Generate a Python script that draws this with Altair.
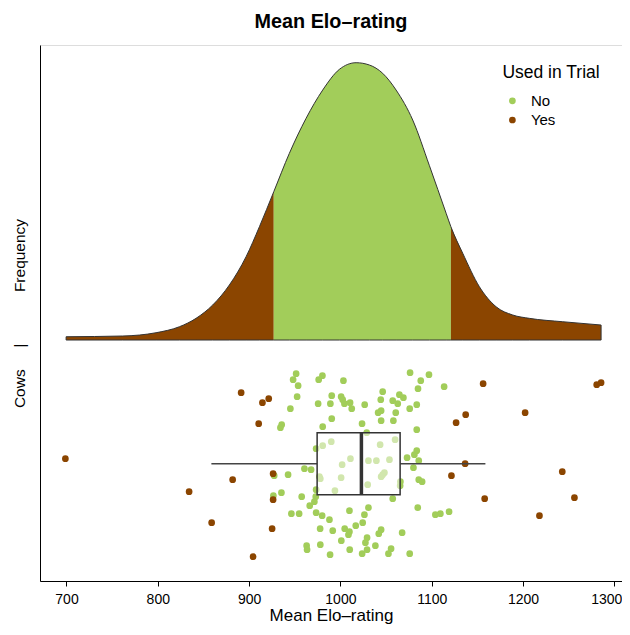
import altair as alt
import pandas as pd

GREEN = "#A2CD5A"
BROWN = "#8B4500"
FONT = "Liberation Sans"

# ---- density curve (Frequency), x in Elo, density x 1e-3
curve_elo = [699.6, 761.6, 798.1, 823.7, 841.9, 860.1, 878.4, 896.7, 911.3, 927.0,
             944.1, 962.4, 980.6, 998.9, 1017.2, 1031.8, 1046.3, 1061.0, 1079.2,
             1097.5, 1115.8, 1121.0, 1134.0, 1152.2, 1170.5, 1188.7, 1207.0, 1243.5, 1285.5]
curve_dens = [0.058, 0.071, 0.129, 0.235, 0.383, 0.618, 0.972, 1.472, 2.002, 2.620,
              3.299, 3.917, 4.417, 4.783, 4.900, 4.859, 4.713, 4.417, 3.887,
              3.080, 2.239, 2.002, 1.532, 0.942, 0.588, 0.442, 0.383, 0.323, 0.265]
low_cut = 927.0
high_cut = 1121.0

# ---- cows (jittered strip)
no_elo = [951.5, 948.2, 953.7, 952.6, 945.2, 935.7, 934.3, 980.3, 976.2, 990.5,
          975.6, 989.0, 990.5, 980.6, 973.4, 980.6, 990.0, 960.6, 967.9, 942.7,
          927.5, 977.0, 978.0, 935.4, 926.6, 957.6, 973.0, 971.5, 966.4, 973.4,
          994.0, 946.3, 954.8, 973.4, 980.0, 988.0, 977.8, 991.6, 963.0, 963.5,
          978.0, 988.7, 1003.3, 1000.8, 1002.5, 1004.4, 1010.6, 1012.4, 1026.6, 1046.3,
          1044.2, 1057.3, 1062.8, 1064.6, 1069.0, 1076.3, 1097.0, 1088.0, 1085.0, 1113.6,
          1083.6, 1075.9, 1041.3, 1044.6, 1060.6, 1044.6, 1058.0, 1023.7, 1028.8, 1083.6,
          1043.5, 1059.9, 1011.0, 1001.9, 1030.7, 1039.4, 1053.7, 1000.8, 1044.6, 1048.2,
          1046.3, 1029.9, 1083.6, 1081.0, 1073.0, 1085.8, 1080.0, 1065.7, 1065.4, 1085.8,
          1089.5, 1057.3, 1084.7, 1104.0, 1109.5, 1119.0, 1030.7, 1026.3, 1024.4, 1009.9,
          1016.8, 1004.7, 1009.9, 1008.8, 1001.0, 1044.6, 1042.0, 1067.6, 1029.2, 1027.4,
          1038.3, 1010.2, 1023.8, 1029.2, 1055.5, 1052.6, 1075.9]
no_jit = [90, 84, 78, 67, 55, 39, 36, 88, 84, 68,
          60, 60, 45, 37, 15, 18, 22, -5, -6, -11,
          -12, -13, -15, -29, -32, -33, -33, -38, -42, -26,
          -27, -50, -50, -49, -52, -56, -65, -67, -82, -86,
          -81, -91, 83, 67, 64, 60, 61, 55, 59, 72,
          64, 63, 60, 69, 66, 91, 89, 83, 75, 77,
          59, 55, 51, 53, 51, 43, 43, 40, 31, 34,
          19, 24, 5, -1, 3, 3, 4, -14, -13, -9,
          -11, -21, 13, 9, 6, 3, -4, -18, -22, -16,
          -18, -35, -44, -51, -50, -48, -44, -51, -59, -47,
          -62, -65, -68, -71, -77, -66, -70, -69, -74, -79,
          -82, -86, -90, -86, -85, -90, -90]
yes_elo = [698.8, 891.3, 914.6, 921.5, 910.5, 882.0, 834.3, 859.0, 926.3, 926.3,
           925.2, 904.4, 1156.3, 1137.2, 1126.7, 1202.3, 1280.7, 1285.5, 1136.6, 1121.6,
           1158.0, 1243.0, 1256.3, 1218.0]
yes_jit = [5, 71, 61, 65, 40, -16, -28, -59, -10, -36,
           -65, -93, 80, 49, 41, 51, 79, 81, 0, -12,
           -35, -8, -34, -52]

# ---- boxplot statistics
box_lower, box_q1, box_median, box_q3, box_upper = 858.7, 974.5, 1023.0, 1065.4, 1158.8
BOX_HALF = 31

# ---------------- data frames
curve = pd.DataFrame({"elo": curve_elo, "dens": curve_dens})
seg_left = curve[curve.elo <= low_cut]
seg_mid = curve[(curve.elo >= low_cut) & (curve.elo <= high_cut)]
seg_right = curve[curve.elo >= high_cut]

pts = pd.concat([
    pd.DataFrame({"elo": no_elo, "jit": no_jit, "used": "No"}),
    pd.DataFrame({"elo": yes_elo, "jit": yes_jit, "used": "Yes"}),
], ignore_index=True)

box = pd.DataFrame({"q1": [box_q1], "q3": [box_q3], "med": [box_median]})
whisk = pd.DataFrame({"a": [box_lower, box_q3], "b": [box_q1, box_upper]})

XDOM = [671.0, 1308.4]
xscale = alt.Scale(domain=XDOM, nice=False, zero=False)
xaxis = alt.Axis(values=[700, 800, 900, 1000, 1100, 1200, 1300], format="d", tickSize=5,
                 labelFontSize=14, labelPadding=6, titleFontSize=17,
                 titleFontWeight="normal", titlePadding=1.5, labelFlush=False,
                 labelOverlap=False, grid=False, domainColor="black", tickColor="black",
                 domainWidth=1, tickWidth=1,
                 labelOffset={"condition": {"test": "datum.value == 1300", "value": -8},
                              "value": 0})
dscale = alt.Scale(domain=[-4.258, 5.213], nice=False, zero=False)
jscale = alt.Scale(domain=[-117.3, 418.7], nice=False, zero=False)

NB = "\u00a0"
ytitle = NB * 4 + "Cows" + NB * 5 + "|" + NB * 12 + "Frequency"
yaxis = alt.Axis(title=ytitle, ticks=False, labels=False, grid=False, domain=True,
                 domainColor="black", domainWidth=1, titleFontSize=15.5,
                 titleFontWeight="normal", titlePadding=12.5)


def area(df, col):
    return alt.Chart(df).mark_area(color=col, interpolate="monotone", opacity=1).encode(
        x=alt.X("elo:Q", scale=xscale, axis=xaxis, title="Mean Elo–rating"),
        y=alt.Y("dens:Q", scale=dscale, axis=yaxis),
    )


outline = alt.Chart(curve).mark_area(fill="transparent", stroke="#333333", strokeWidth=1,
                                     interpolate="monotone").encode(
    x=alt.X("elo:Q", scale=xscale, axis=xaxis, title="Mean Elo–rating"),
    y=alt.Y("dens:Q", scale=dscale, axis=yaxis),
)

dens_layer = alt.layer(area(seg_left, BROWN), area(seg_mid, GREEN), area(seg_right, BROWN), outline)

points = alt.Chart(pts).mark_circle(size=45, opacity=1).encode(
    x=alt.X("elo:Q", scale=xscale, axis=xaxis, title="Mean Elo–rating"),
    y=alt.Y("jit:Q", scale=jscale, axis=None),
    color=alt.Color("used:N", scale=alt.Scale(domain=["No", "Yes"], range=[GREEN, BROWN]),
                    legend=alt.Legend(title="Used in Trial", orient="none", legendX=462.4,
                                      legendY=18.5, titleFontSize=17.5, titleFontWeight="normal",
                                      labelFontSize=15, symbolType="circle", symbolSize=45,
                                      symbolStrokeWidth=0, rowPadding=3.2, titlePadding=12.3,
                                      padding=0, symbolOffset=2.5, labelOffset=11,
                                      titleFont=FONT, labelFont=FONT, titleColor="black",
                                      labelColor="black")),
)

box_rect = alt.Chart(box).mark_rect(fill="white", fillOpacity=0.5, stroke="#333333",
                                    strokeWidth=1.5).encode(
    x=alt.X("q1:Q", scale=xscale),
    x2="q3:Q",
    y=alt.Y(datum=BOX_HALF, scale=jscale, axis=None),
    y2=alt.Y2(datum=-BOX_HALF),
)
whiskers = alt.Chart(whisk).mark_rule(color="#444444", strokeWidth=1.5).encode(
    x=alt.X("a:Q", scale=xscale),
    x2="b:Q",
    y=alt.Y(datum=0, scale=jscale, axis=None),
)
median = alt.Chart(box).mark_rule(color="#333333", strokeWidth=3.5).encode(
    x=alt.X("med:Q", scale=xscale),
    y=alt.Y(datum=BOX_HALF, scale=jscale, axis=None),
    y2=alt.Y2(datum=-BOX_HALF),
)

pts_layer = alt.layer(points, whiskers, box_rect, median)

chart = alt.layer(dens_layer, pts_layer).resolve_scale(y="independent").properties(
    width=582, height=536,
    padding={"left": 32, "top": 37, "right": 0, "bottom": 44},
    autosize=alt.AutoSizeParams(type="none"),
    title=alt.TitleParams("Mean Elo–rating", fontSize=19.8, fontWeight="bold", font=FONT,
                          anchor="middle", baseline="alphabetic", offset=2, dy=5,
                          color="black"),
).configure_view(stroke=None).configure_axis(
    labelFont=FONT, titleFont=FONT, labelColor="black", titleColor="black"
).configure(background="white")

chart.save("out.html", embed_options={"renderer": "svg", "actions": False})
